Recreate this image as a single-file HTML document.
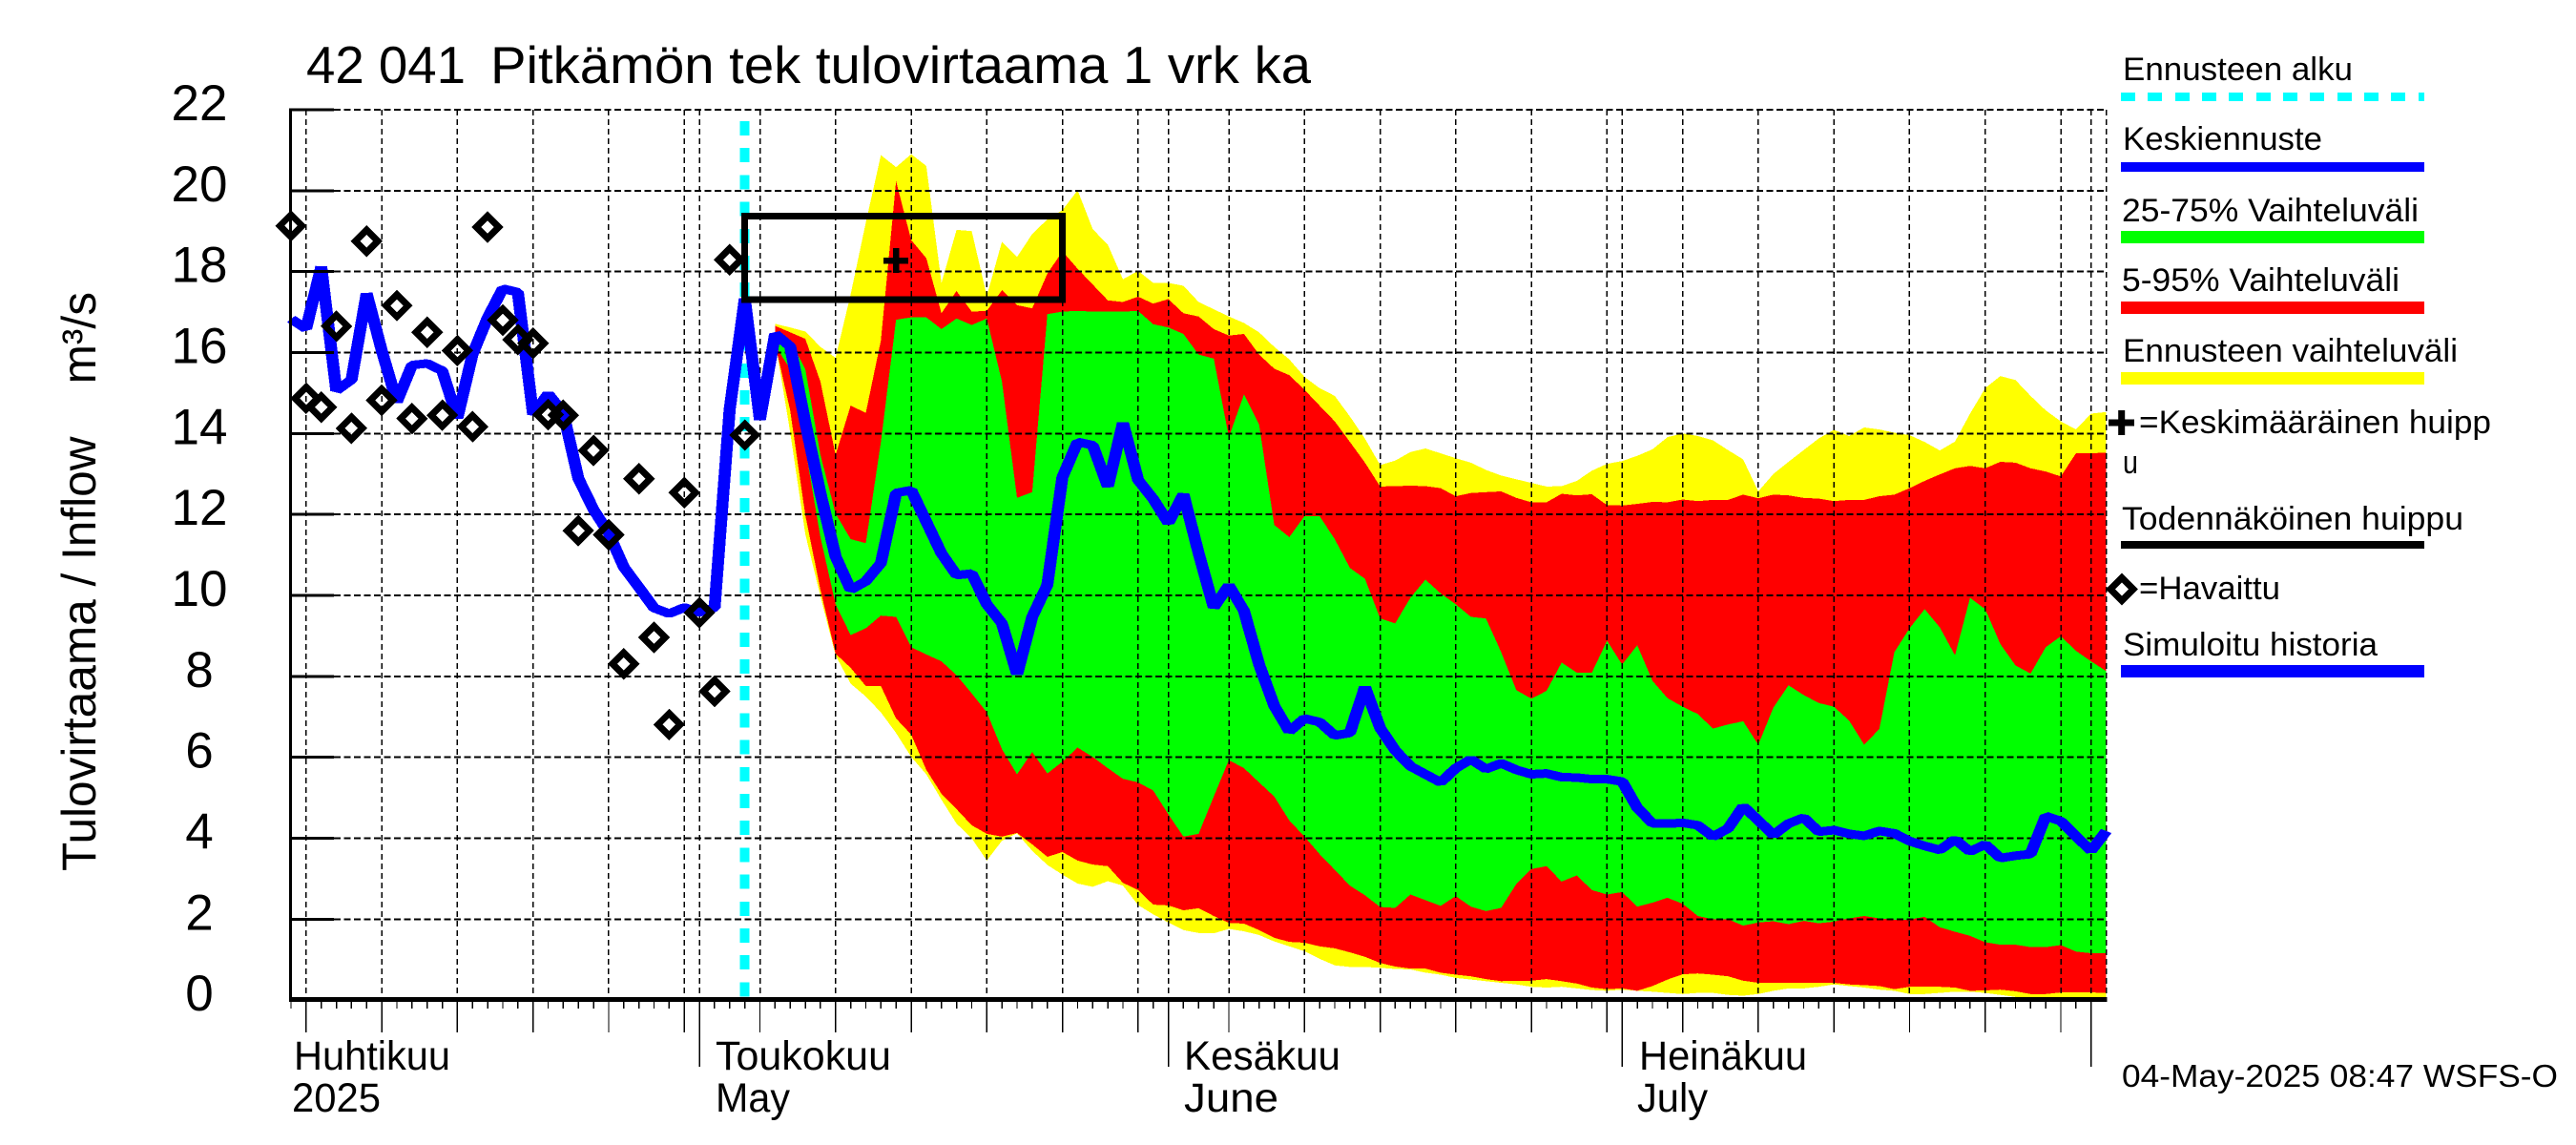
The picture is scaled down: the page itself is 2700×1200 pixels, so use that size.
<!DOCTYPE html>
<html lang="fi">
<head>
<meta charset="utf-8">
<title>42 041 Pitkämön tek tulovirtaama 1 vrk ka</title>
<style>
html,body{margin:0;padding:0;background:#fff;}
svg{display:block;}
text{font-family:"Liberation Sans",sans-serif;fill:#000;white-space:pre;}
</style>
</head>
<body>
<svg id="chart" xmlns="http://www.w3.org/2000/svg" width="2700" height="1200" viewBox="0 0 2700 1200">
  <rect x="0" y="0" width="2700" height="1200" fill="#fff"/>
  <g id="bands"></g>
  <g id="grid"></g>
  <g id="marks"></g>
  <g id="axes"></g>

  <text x="321" y="87" font-size="55" textLength="167" lengthAdjust="spacingAndGlyphs">42 041</text>
  <text x="514" y="87" font-size="55" textLength="860" lengthAdjust="spacingAndGlyphs">Pitkämön tek tulovirtaama 1 vrk ka</text>
  <text transform="translate(100,913) rotate(-90)" font-size="50" textLength="607" lengthAdjust="spacingAndGlyphs" xml:space="preserve">Tulovirtaama / Inflow    m³/s</text>

  <g>
    <text x="308" y="1121" font-size="43" textLength="164" lengthAdjust="spacingAndGlyphs">Huhtikuu</text>
    <text x="306" y="1165" font-size="43" textLength="93" lengthAdjust="spacingAndGlyphs">2025</text>
    <text x="750" y="1121" font-size="43" textLength="184" lengthAdjust="spacingAndGlyphs">Toukokuu</text>
    <text x="750" y="1165" font-size="43" textLength="78" lengthAdjust="spacingAndGlyphs">May</text>
    <text x="1241" y="1121" font-size="43" textLength="164" lengthAdjust="spacingAndGlyphs">Kesäkuu</text>
    <text x="1241" y="1165" font-size="43" textLength="99" lengthAdjust="spacingAndGlyphs">June</text>
    <text x="1718" y="1121" font-size="43" textLength="176" lengthAdjust="spacingAndGlyphs">Heinäkuu</text>
    <text x="1716" y="1165" font-size="43" textLength="74" lengthAdjust="spacingAndGlyphs">July</text>
  </g>

  <g>
    <text x="2225" y="84" font-size="34" textLength="241" lengthAdjust="spacingAndGlyphs">Ennusteen alku</text>
    <rect x="2223" y="97" width="15" height="9" fill="#0ff"/>
    <rect x="2251" y="97" width="15" height="9" fill="#0ff"/>
    <rect x="2280" y="97" width="15" height="9" fill="#0ff"/>
    <rect x="2308" y="97" width="15" height="9" fill="#0ff"/>
    <rect x="2336" y="97" width="15" height="9" fill="#0ff"/>
    <rect x="2365" y="97" width="15" height="9" fill="#0ff"/>
    <rect x="2393" y="97" width="15" height="9" fill="#0ff"/>
    <rect x="2421" y="97" width="15" height="9" fill="#0ff"/>
    <rect x="2450" y="97" width="15" height="9" fill="#0ff"/>
    <rect x="2478" y="97" width="15" height="9" fill="#0ff"/>
    <rect x="2506" y="97" width="15" height="9" fill="#0ff"/>
    <rect x="2535" y="97" width="6" height="9" fill="#0ff"/>

    <text x="2225" y="157" font-size="34" textLength="209" lengthAdjust="spacingAndGlyphs">Keskiennuste</text>
    <rect x="2223" y="170" width="318" height="10" fill="#00f"/>

    <text x="2224" y="232" font-size="34" textLength="311" lengthAdjust="spacingAndGlyphs">25-75% Vaihteluväli</text>
    <rect x="2223" y="242" width="318" height="13" fill="#0f0"/>

    <text x="2224" y="305" font-size="34" textLength="291" lengthAdjust="spacingAndGlyphs">5-95% Vaihteluväli</text>
    <rect x="2223" y="316" width="318" height="13" fill="#f00"/>

    <text x="2225" y="379" font-size="34" textLength="351" lengthAdjust="spacingAndGlyphs">Ennusteen vaihteluväli</text>
    <rect x="2223" y="390" width="318" height="13" fill="#ff0"/>

    <path d="M2210 443H2237M2223.7 430V456" stroke="#000" stroke-width="7" fill="none"/>
    <text x="2242" y="454" font-size="34" textLength="369" lengthAdjust="spacingAndGlyphs">=Keskimääräinen huipp</text>
    <text x="2225" y="496" font-size="34" textLength="16" lengthAdjust="spacingAndGlyphs">u</text>

    <text x="2224" y="555" font-size="34" textLength="358" lengthAdjust="spacingAndGlyphs">Todennäköinen huippu</text>
    <rect x="2223" y="567" width="318" height="8" fill="#000"/>

    <polygon points="2224,605.5 2236,617.5 2224,629.5 2212,617.5" fill="none" stroke="#000" stroke-width="7"/>
    <text x="2242" y="628" font-size="34" textLength="148" lengthAdjust="spacingAndGlyphs">=Havaittu</text>

    <text x="2225" y="687" font-size="34" textLength="267" lengthAdjust="spacingAndGlyphs">Simuloitu historia</text>
    <rect x="2223" y="697" width="318" height="13" fill="#00f"/>
  </g>

  <text x="2224" y="1139" font-size="33" textLength="457" lengthAdjust="spacingAndGlyphs">04-May-2025 08:47 WSFS-O</text>
</svg>
<script>
// ---- chart data (m3/s); index = days since 4 Apr 2025 ----
const yTickLabels = [0,2,4,6,8,10,12,14,16,18,20,22];

const observed = [19.13,14.87,14.65,16.65,14.13,18.75,14.82,17.16,14.37,16.5,14.45,16.05,14.17,19.1,16.8,16.32,16.23,14.47,14.45,11.6,13.58,11.5,8.31,12.88,8.96,6.81,12.54,9.57,7.63,18.29,13.96];

const meanSeries = [16.83,16.59,18.12,15.06,15.33,17.46,16.05,14.78,15.69,15.73,15.55,14.38,15.96,16.86,17.58,17.49,14.47,14.98,14.51,12.89,12.12,11.54,10.7,10.2,9.69,9.55,9.7,9.58,9.7,14.6,
17.33,14.34,16.46,16.15,14.27,12.53,10.96,10.14,10.35,10.8,12.53,12.6,11.82,11.04,10.5,10.54,9.78,9.31,8.05,9.47,10.26,12.92,13.79,13.71,12.69,14.26,12.85,12.38,11.79,12.5,
11.04,9.7,10.25,9.62,8.29,7.27,6.64,6.96,6.87,6.54,6.6,7.74,6.72,6.17,5.78,5.58,5.38,5.73,5.95,5.71,5.85,5.69,5.58,5.6,5.51,5.5,5.46,5.46,5.4,4.75,
4.37,4.36,4.38,4.32,4.04,4.24,4.79,4.44,4.08,4.36,4.51,4.16,4.2,4.11,4.06,4.18,4.12,3.93,3.81,3.71,3.97,3.67,3.85,3.51,3.57,3.61,4.55,4.42,4.05,3.69,4.18];

const forecastFirstDay = 32;

const yellowTop = [16.71,16.62,16.52,16.14,15.87,17.44,19.21,20.88,20.58,20.90,20.61,17.72,19.03,19.00,17.40,18.74,18.36,18.93,19.29,19.52,20.01,19.05,18.66,17.81,18.02,17.72,17.72,17.65,17.25,17.07,16.89,16.73,16.50,16.14,15.83,15.40,15.12,14.93,
14.42,13.87,13.22,13.33,13.54,13.63,13.51,13.39,13.28,13.10,12.96,12.87,12.78,12.69,12.70,12.83,13.08,13.25,13.32,13.45,13.61,13.91,14.00,13.94,13.83,13.59,13.36,12.57,13.00,13.30,13.59,13.88,14.09,13.94,14.15,14.10,14.02,13.96,13.79,13.58,13.80,14.49,15.12,15.42,15.32,14.93,14.57,14.30,14.10,14.49,14.53];

const yellowBottom = [16.30,14.03,11.51,9.98,8.52,7.82,7.50,7.11,6.60,6.01,5.58,4.95,4.36,4.00,3.45,3.94,4.12,3.69,3.34,3.10,2.88,2.80,2.94,2.83,2.35,2.12,1.92,1.73,1.66,1.65,1.76,1.70,1.61,1.45,1.33,1.21,1.02,.86,.82,.82,.80,.77,.76,.68,
.63,.55,.51,.47,.43,.39,.33,.31,.33,.29,.25,.23,.26,.23,.21,.18,.15,.18,.18,.13,.11,.15,.23,.29,.29,.33,.39,.35,.31,.26,.23,.15,.15,.18,.21,.21,.18,.13,.08,.05,.04,.02,.03,.02,.03];

const redTop = [16.66,16.50,16.34,15.28,13.47,14.69,14.51,16.30,20.23,18.78,18.33,16.97,17.52,17.01,17.03,17.54,17.17,17.09,17.95,18.50,18.07,17.68,17.29,17.25,17.38,17.21,17.32,16.97,16.89,16.58,16.42,16.46,15.95,15.60,15.44,15.08,14.69,14.30,
13.79,13.28,12.69,12.70,12.71,12.70,12.65,12.45,12.53,12.55,12.57,12.41,12.30,12.30,12.51,12.47,12.50,12.23,12.22,12.26,12.31,12.30,12.37,12.33,12.36,12.36,12.49,12.40,12.49,12.47,12.41,12.39,12.33,12.36,12.36,12.45,12.49,12.65,12.83,12.99,13.14,13.20,13.14,13.30,13.28,13.14,13.06,12.94,13.51,13.51,13.53];

const redBottom = [16.22,14.57,11.98,10.14,8.56,8.21,7.76,7.76,6.96,6.56,5.69,5.10,4.72,4.32,4.11,4.04,4.13,3.85,3.54,3.66,3.45,3.35,3.31,2.90,2.72,2.36,2.34,2.22,2.27,2.08,1.91,1.89,1.73,1.54,1.44,1.42,1.33,1.28,1.18,1.07,.92,.83,.78,.78,
.68,.63,.59,.52,.47,.48,.48,.52,.47,.41,.31,.27,.29,.23,.35,.51,.64,.66,.63,.59,.48,.43,.43,.43,.43,.43,.43,.39,.37,.35,.27,.33,.33,.33,.31,.23,.24,.26,.22,.15,.15,.19,.19,.19,.18];

const greenTop = [16.30,16.30,15.59,13.47,12.02,11.39,11.29,13.79,16.81,16.87,16.87,16.58,16.84,16.68,16.84,15.28,12.41,12.55,16.95,17.01,17.03,17.01,17.01,17.01,17.03,16.70,16.62,16.46,15.95,15.85,13.91,14.97,14.22,11.74,11.44,11.96,11.96,11.39,
10.68,10.41,9.43,9.31,9.94,10.39,10.05,9.78,9.47,9.43,8.60,7.66,7.45,7.64,8.34,8.09,8.09,8.88,8.29,8.77,7.89,7.46,7.25,7.07,6.71,6.81,6.89,6.31,7.23,7.78,7.54,7.34,7.25,6.91,6.31,6.70,8.60,9.19,9.66,9.21,8.52,9.94,9.66,8.80,8.27,8.07,8.72,8.99,8.63,8.37,8.13];

const greenBottom = [16.18,15.59,13.63,11.44,9.78,9.02,9.19,9.50,9.47,8.72,8.54,8.37,8.03,7.58,7.11,6.20,5.58,6.13,5.60,5.89,6.24,6.01,5.73,5.47,5.38,5.18,4.59,4.04,4.11,5.03,5.93,5.73,5.38,5.03,4.44,4.04,3.61,3.22,2.83,2.59,2.30,2.28,2.61,2.47,
2.33,2.57,2.31,2.20,2.28,2.87,3.24,3.31,2.93,3.08,2.72,2.61,2.67,2.31,2.41,2.53,2.38,2.08,2.00,2.00,1.84,1.92,1.95,1.88,1.96,1.90,1.94,2.02,2.08,2.02,1.99,1.99,2.06,1.80,1.69,1.59,1.43,1.37,1.37,1.31,1.31,1.36,1.20,1.16,1.16];

const forecastStartDay = 30;
const peakBoxDays = [30,51];
const peakBoxValues = [17.31,19.37];
const meanPeakDay = 40;
const meanPeakValue = 18.27;
const totalDays = 120;

// ---- axis functions ----
const SVGNS = 'http://www.w3.org/2000/svg';
const penStretch = 1.4;
function xAt(d){ return 305 + 15.855 * d; }
function yAt(v){ return 1048.2 - 42.42 * v; }
function mk(tag, parent, attrs){
  const el = document.createElementNS(SVGNS, tag);
  for (const k in attrs) el.setAttribute(k, attrs[k]);
  parent.appendChild(el);
  return el;
}
function pts(list){ return list.map(p => p[0].toFixed(1) + ',' + p[1].toFixed(1)).join(' '); }
function bandPoints(top, bottom){
  const a = [];
  top.forEach((v,i) => a.push([xAt(forecastFirstDay + i), yAt(v)]));
  for (let i = bottom.length - 1; i >= 0; i--) a.push([xAt(forecastFirstDay + i), yAt(bottom[i])]);
  return pts(a);
}

const bandsG = document.getElementById('bands');
const gridG = document.getElementById('grid');
const marksG = document.getElementById('marks');
const axesG = document.getElementById('axes');

// ---- bands ----
const yellowBand = mk('polygon', bandsG, {points: bandPoints(yellowTop, yellowBottom), fill: '#ff0', 'shape-rendering': 'crispEdges'});


const redBand = mk('polygon', bandsG, {points: bandPoints(redTop, redBottom), fill: '#f00', 'shape-rendering': 'crispEdges'});


const greenBand = mk('polygon', bandsG, {points: bandPoints(greenTop, greenBottom), fill: '#0f0', 'shape-rendering': 'crispEdges'});



// ---- y axis + horizontal grid ----
yTickLabels.forEach(v => {
  const y = yAt(v);
  if (v > 0) {
    const g = mk('line', gridG, {x1: 350, x2: xAt(totalDays), y1: y, y2: y, stroke: '#000', 'stroke-width': 2, 'stroke-dasharray': '7 3.5', 'shape-rendering': 'crispEdges'});
    
    
    const t = mk('line', axesG, {x1: 305, x2: 350, y1: y, y2: y, stroke: '#000', 'stroke-width': 3, 'shape-rendering': 'crispEdges'});
    
    
  }
  const lab = mk('text', axesG, {x: 209, y: y + 11, 'font-size': 53, 'text-anchor': 'middle'});
  lab.textContent = String(v);
  
  
});

// ---- x axis + vertical grid (calendar-driven) ----
for (let d = 0; d <= totalDays; d++) {
  const dt = new Date(2025, 3, 4 + d);
  const dom = dt.getDate();
  const isMonth = dom === 1;
  const isMajor = dom % 5 === 0;
  const x = xAt(d);
  const len = isMonth ? 1118 : (isMajor ? 1082 : 1057);
  if (d < totalDays) {
    const tick = mk('line', axesG, {x1: x, x2: x, y1: 1048, y2: len, stroke: '#000', 'stroke-width': 1.4, 'shape-rendering': 'crispEdges'});
    
    
  }
  if (isMonth || isMajor || d === totalDays) {
    const v = mk('line', gridG, {x1: x, x2: x, y1: 115, y2: 1048, stroke: '#000', 'stroke-width': 1.5, 'stroke-dasharray': '6 4', 'shape-rendering': 'crispEdges'});
    
    
  }
}
const yAxisLine = mk('line', axesG, {x1: 304.5, x2: 304.5, y1: 113.5, y2: 1050, stroke: '#000', 'stroke-width': 3, 'shape-rendering': 'crispEdges'});


const xAxisLine = mk('line', axesG, {x1: 303, x2: xAt(totalDays) + 1, y1: 1047.5, y2: 1047.5, stroke: '#000', 'stroke-width': 5, 'shape-rendering': 'crispEdges'});


const topTick = mk('line', axesG, {x1: 305, x2: 350, y1: yAt(22), y2: yAt(22), stroke: '#000', 'stroke-width': 3, 'shape-rendering': 'crispEdges'});



// ---- forecast start line ----
const startLine = mk('line', marksG, {x1: xAt(forecastStartDay), x2: xAt(forecastStartDay), y1: 127, y2: 1046, stroke: '#0ff', 'stroke-width': 10, 'stroke-dasharray': '15 13.2', 'shape-rendering': 'crispEdges'});



// ---- mean / simulated line: pen is wider than tall, so the stroke is stretched in x ----
const meanLine = mk('polyline', marksG, {points: pts(meanSeries.map((v,i) => [xAt(i) / penStretch, yAt(v)])), transform: 'scale(' + penStretch + ',1)', fill: 'none', stroke: '#00f', 'stroke-width': 9, 'stroke-linejoin': 'bevel', 'shape-rendering': 'crispEdges'});



// ---- probable peak box ----
const bx1 = xAt(peakBoxDays[0]), bx2 = xAt(peakBoxDays[1]);
const by1 = yAt(peakBoxValues[1]), by2 = yAt(peakBoxValues[0]);
const peakBox = mk('rect', marksG, {x: bx1, y: by1, width: bx2 - bx1, height: by2 - by1, fill: 'none', stroke: '#000', 'stroke-width': 7, 'shape-rendering': 'crispEdges'});



// ---- mean peak plus ----
const px = xAt(meanPeakDay), py = yAt(meanPeakValue);
const plus = mk('path', marksG, {d: 'M' + (px - 13) + ' ' + py + 'H' + (px + 13) + 'M' + px + ' ' + (py - 13) + 'V' + (py + 13), stroke: '#000', 'stroke-width': 6.5, fill: 'none', 'shape-rendering': 'crispEdges'});



// ---- observed diamonds ----
observed.forEach((v,i) => {
  const cx = xAt(i), cy = yAt(v);
  const dm = mk('polygon', marksG, {points: pts([[cx, cy - 11.7], [cx + 11.7, cy], [cx, cy + 11.7], [cx - 11.7, cy]]), fill: 'none', stroke: '#000', 'stroke-width': 7, 'shape-rendering': 'crispEdges'});
  
  
});
</script>
</body>
</html>
